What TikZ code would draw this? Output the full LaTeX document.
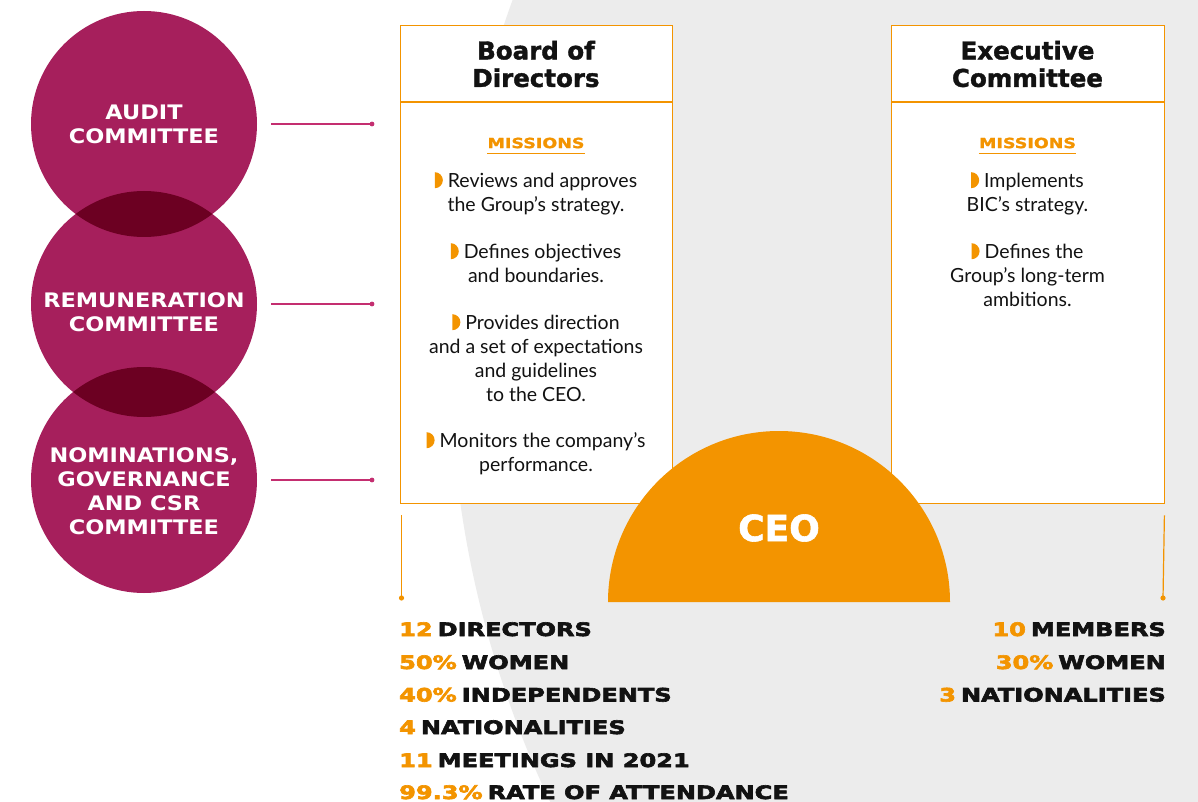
\documentclass[tikz,border=0pt]{standalone}
\usepackage{fontspec}
\setmainfont{Lato}
\newfontfamily\headfont{DejaVu Sans Bold}[FakeBold=1.6]
\newfontfamily\widefont{DejaVu Sans Bold}[FakeStretch=1.3,FakeBold=3.4]
\newfontfamily\misfont{DejaVu Sans Bold}[FakeStretch=1.25,FakeBold=1.4]
\newfontfamily\circfont{DejaVu Sans Bold}[FakeStretch=1.12]
\definecolor{mag}{RGB}{166,31,92}
\definecolor{magdark}{RGB}{108,0,34}
\definecolor{magline}{RGB}{196,46,112}
\definecolor{orng}{RGB}{243,148,0}
\definecolor{bggray}{RGB}{236,236,236}
\definecolor{ink}{RGB}{18,18,18}
% orange half-disc bullet
\newcommand\hbul{\tikz[baseline=0pt]\fill[orng] (0pt,-1pt) -- (0pt,15pt)
  arc[start angle=90,end angle=-90,x radius=8pt,y radius=8pt] -- cycle;\hspace{5pt}}
% figure followed by its label, with a tight gap
\newcommand\fig[2]{\textcolor{orng}{#1}\hspace{5pt}#2}
\begin{document}
\begin{tikzpicture}[x=1pt,y=-1pt,
  comm/.style={circle,fill=mag,minimum size=226pt,inner sep=0},
  commtxt/.style={text=white,font=\circfont\fontsize{20}{24}\selectfont,align=center,inner sep=0},
  mlink/.style={draw=magline,line width=1.1pt},
  box/.style={rectangle,draw=orng,line width=1.4pt,fill=white,anchor=north west,inner sep=0},
  oline/.style={draw=orng,line width=1.4pt},
  title/.style={font=\headfont\fontsize{24.5}{27.5}\selectfont,align=center,text=ink,inner sep=0},
  mis/.style={font=\misfont\fontsize{14}{14}\selectfont,text=orng,inner sep=0},
  para/.style={font=\fontsize{19.5}{24}\selectfont,align=center,text=ink,inner sep=0,anchor=north},
  stat/.style={font=\widefont\fontsize{18.5}{20}\selectfont,text=ink,inner sep=0},
  ceotxt/.style={font=\headfont\fontsize{36}{40}\selectfont,text=white,inner sep=0}]
\useasboundingbox (0,0) rectangle (1198,802);
\clip (0,0) rectangle (1198,802);
\fill[white] (0,0) rectangle (1198,802);
% large grey disc in the background
\fill[bggray] (1489,356) circle[radius=1039pt];

% committees
\node[comm] (audit) at (144,124) {};
\node[comm] (remu) at (144,304) {};
\node[comm] (nomi) at (144,480) {};
\begin{scope}
  \clip (audit.center) circle[radius=113pt];
  \fill[magdark] (remu.center) circle[radius=113pt];
\end{scope}
\begin{scope}
  \clip (remu.center) circle[radius=113pt];
  \fill[magdark] (nomi.center) circle[radius=113pt];
\end{scope}
\node[commtxt] (auditlbl) at (144,124) {AUDIT\\COMMITTEE};
\node[commtxt] (remulbl) at (144,312) {REMUNERATION\\COMMITTEE};
\node[commtxt] (nomilbl) at (144,491) {NOMINATIONS,\\GOVERNANCE\\AND CSR\\COMMITTEE};

% links from the committees towards the board
\coordinate (auditend) at (372,124);
\coordinate (remuend) at (372,304);
\coordinate (nomiend) at (372,480);
\draw[mlink] ([xshift=14pt]audit.east) -- (auditend);
\draw[mlink] ([xshift=14pt]remu.east) -- (remuend);
\draw[mlink] ([xshift=14pt]nomi.east) -- (nomiend);
\foreach \p in {auditend,remuend,nomiend} \fill[magline] (\p) circle[radius=2.4pt];

% boxes
\node[box,minimum width=272pt,minimum height=478pt] (board) at (400,25) {};
\node[box,minimum width=273pt,minimum height=478pt] (exec) at (891,25) {};
\draw[oline] ([yshift=-77pt]board.north west) -- ([yshift=-77pt]board.north east);
\draw[oline] ([yshift=-77pt]exec.north west) -- ([yshift=-77pt]exec.north east);

\node[title] (boardttl) at (536,64) {Board of\\Directors};
\node[title] (execttl) at (1027.5,64) {Executive\\Committee};

\node[mis] (bmis) at (536,143) {MISSIONS};
\node[mis] (emis) at (1027.5,143) {MISSIONS};
\draw[orng,line width=1.3pt] ([yshift=-5pt]bmis.south west) -- ([yshift=-5pt]bmis.south east);
\draw[orng,line width=1.3pt] ([yshift=-5pt]emis.south west) -- ([yshift=-5pt]emis.south east);

\node[para] (b1) at (536,172) {\hbul Reviews and approves\\the Group’s strategy.};
\node[para] (b2) at (536,243) {\hbul Defines objectives\\and boundaries.};
\node[para] (b3) at (536,314) {\hbul Provides direction\\and a set of expectations\\and guidelines\\to the CEO.};
\node[para] (b4) at (536,432) {\hbul Monitors the company’s\\performance.};
\node[para] (e1) at (1027.5,172) {\hbul Implements\\BIC’s strategy.};
\node[para] (e2) at (1027.5,243) {\hbul Defines the\\Group’s long-term\\ambitions.};

% CEO half disc
\fill[orng] (608,602) arc[start angle=180,end angle=0,radius=171pt] -- cycle;
\node[ceotxt] (ceo) at (779,528) {CEO};

% drop lines to the figures
\coordinate (bdot) at (401.5,598);
\coordinate (edot) at (1163,598);
\draw[oline,line width=1.2pt] ([shift={(1.5pt,-11pt)}]board.south west) -- (bdot);
\draw[oline,line width=1.2pt] ([shift={(-1pt,-11pt)}]exec.south east) -- (edot);
\fill[orng] (bdot) circle[radius=2.6pt];
\fill[orng] (edot) circle[radius=2.6pt];

% key figures
\node[stat,anchor=base west] (s1) at (399,636) {\fig{12}{DIRECTORS}};
\node[stat,anchor=base west] (s2) at (399,669) {\fig{50\%}{WOMEN}};
\node[stat,anchor=base west] (s3) at (399,701.5) {\fig{40\%}{INDEPENDENTS}};
\node[stat,anchor=base west] (s4) at (399,734) {\fig{4}{NATIONALITIES}};
\node[stat,anchor=base west] (s5) at (399,767) {\fig{11}{MEETINGS IN 2021}};
\node[stat,anchor=base west] (s6) at (399,799) {\fig{99.3\%}{RATE OF ATTENDANCE}};
\node[stat,anchor=base east] (r1) at (1166,636) {\fig{10}{MEMBERS}};
\node[stat,anchor=base east] (r2) at (1166,669) {\fig{30\%}{WOMEN}};
\node[stat,anchor=base east] (r3) at (1166,701.5) {\fig{3}{NATIONALITIES}};
\end{tikzpicture}
\end{document}
